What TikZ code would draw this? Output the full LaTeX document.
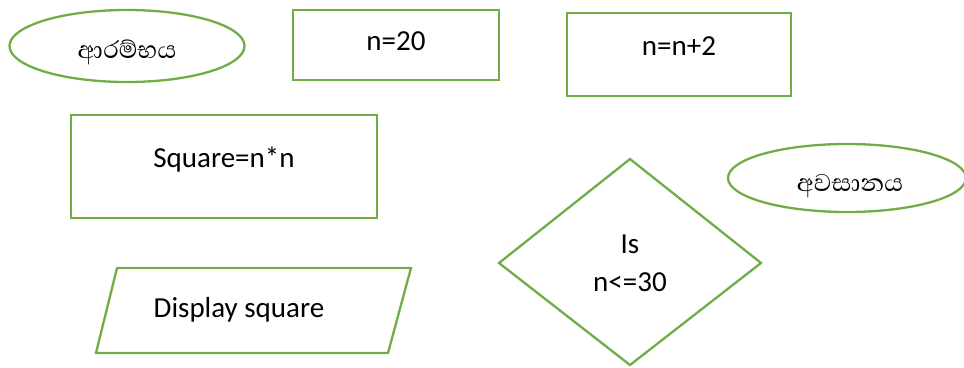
\documentclass[tikz,border=0pt]{standalone}
\usepackage{fontspec}
\setmainfont{Carlito}
\newfontfamily\sinhalafont[Script=Sinhala]{Abhaya Libre}
\usetikzlibrary{shapes.geometric}
\definecolor{fcgreen}{HTML}{70AD47}
\tikzset{
  shapeline/.style={draw=fcgreen, line width=2.3pt},
  lbl/.style={font=\fontsize{29}{35}\selectfont, inner sep=0pt, anchor=base},
  silbl/.style={font=\sinhalafont\fontsize{31}{36}\selectfont, inner sep=0pt, anchor=base},
}
\begin{document}
\begin{tikzpicture}[x=1pt,y=-1pt]
\useasboundingbox (0,0) rectangle (964,367);
% start ellipse
\node[shapeline, ellipse, minimum width=235pt, minimum height=72pt, inner sep=0pt] (start) at (127,46) {};
\node[silbl] (starttxt) at (127,58) {ආරම්භය};
% n=20
\draw[shapeline] (293,10) rectangle (499,80);
\node[lbl] (n20) at (396,50) {n=20};
% n=n+2
\draw[shapeline] (567,13) rectangle (791,96);
\node[lbl] (n2) at (679,55) {n=n+2};
% square
\draw[shapeline] (71,115) rectangle (377,218);
\node[lbl] (sq) at (224,167) {Square=n*n};
% end ellipse
\node[shapeline, ellipse, minimum width=238pt, minimum height=68pt, inner sep=0pt] (end) at (847,178) {};
\node[silbl] (endtxt) at (850,191) {අවසානය};
% decision
\draw[shapeline] (630,159) -- (761,263) -- (630,365) -- (499,263) -- cycle;
\node[lbl] (is) at (630,253) {Is};
\node[lbl] (cond) at (630,291) {n<=30};
% display
\draw[shapeline] (117,268) -- (411,268) -- (388,353) -- (96,353) -- cycle;
\node[lbl] (disp) at (239,317) {Display square};
\end{tikzpicture}
\end{document}
